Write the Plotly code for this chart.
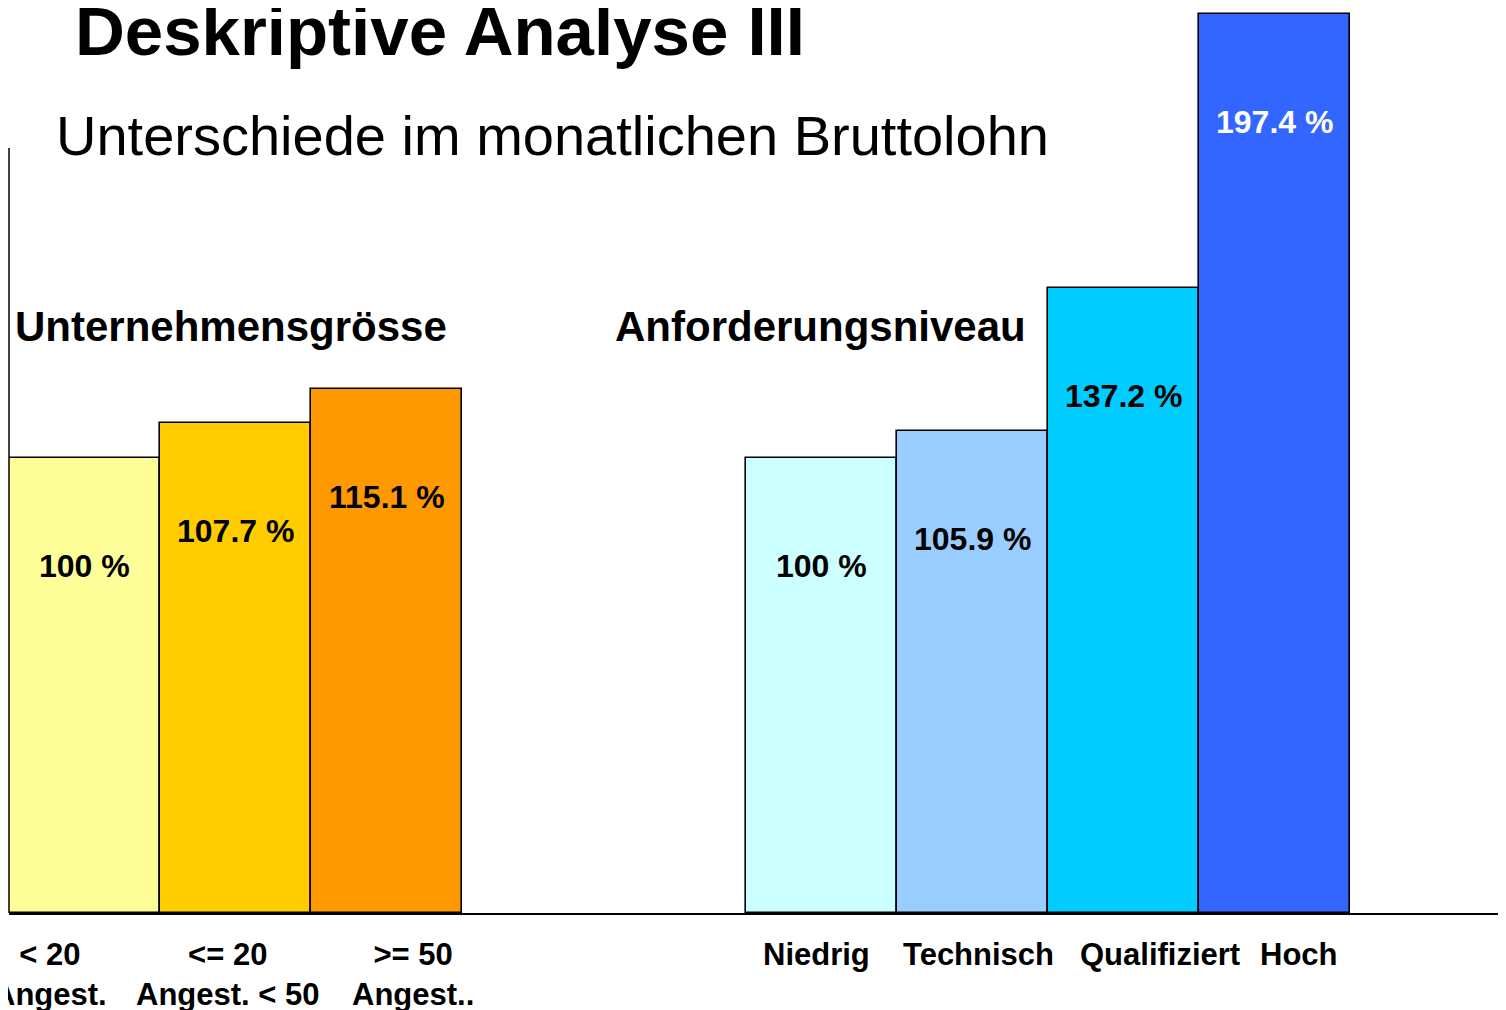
import plotly.graph_objects as go

# Data
cats_size = ["< 20<br>Angest.", "<= 20<br>Angest. < 50", ">= 50<br>Angest.."]
vals_size = [100.0, 107.7, 115.1]
colors_size = ["#FFFF99", "#FFCC00", "#FF9900"]

cats_level = ["Niedrig", "Technisch", "Qualifiziert", "Hoch"]
vals_level = [100.0, 105.9, 137.2, 197.4]
colors_level = ["#CCFFFF", "#99CCFF", "#00CCFF", "#3366FF"]

label_colors_size = ["black", "black", "black"]
label_colors_level = ["black", "black", "black", "white"]

title = "Deskriptive Analyse III"
subtitle = "Unterschiede im monatlichen Bruttolohn"
group_titles = ["Unternehmensgrösse", "Anforderungsniveau"]

# Layout positions (bar-width units)
pos_size = [0, 1, 2]
pos_level = [4.881, 5.881, 6.881, 7.881]
tick_shift_size = [-35, -8, 26]
tick_shift_level = [-5, 6, 36, 24]

W, H = 1506, 1010
OFF = 8  # page offset of the figure (body margin)
L = 9 - OFF
plot_bottom = 913 - OFF
B = H - plot_bottom
plot_w = W - L
px_per_unit = 4.554
ymax = plot_bottom / px_per_unit

FONT = "Liberation Sans, Arial, sans-serif"

fig = go.Figure()
fig.add_trace(go.Bar(x=pos_size, y=vals_size, width=1.0,
                     marker=dict(color=colors_size, line=dict(color="black", width=1.6)),
                     hoverinfo="skip", showlegend=False))
fig.add_trace(go.Bar(x=pos_level, y=vals_level, width=1.0,
                     marker=dict(color=colors_level, line=dict(color="black", width=1.6)),
                     hoverinfo="skip", showlegend=False))

annotations = []
for x, v, c in zip(pos_size + pos_level, vals_size + vals_level,
                   label_colors_size + label_colors_level):
    txt = (f"{v:.1f}".rstrip("0").rstrip(".")) + " %"
    annotations.append(dict(x=x, y=v, xref="x", yref="y", text=f"<b>{txt}</b>",
                            showarrow=False, yshift=-108, yanchor="middle",
                            font=dict(family=FONT, size=32, color=c)))

for x, t, s in zip(pos_size, cats_size, tick_shift_size):
    annotations.append(dict(x=x, y=0, xref="x", yref="y", text=f"<b>{t}</b>",
                            showarrow=False, yanchor="top", yshift=-22, xshift=s,
                            align="center",
                            font=dict(family=FONT, size=31, color="black")))
for x, t, s in zip(pos_level, cats_level, tick_shift_level):
    annotations.append(dict(x=x, y=0, xref="x", yref="y", text=f"<b>{t}</b>",
                            showarrow=False, yanchor="top", yshift=-22, xshift=s,
                            font=dict(family=FONT, size=31, color="black")))

def px(xp):
    return (xp - OFF - L) / plot_w

def py(yp):
    return (plot_bottom - (yp - OFF)) / plot_bottom

annotations.append(dict(x=px(73), y=py(31), xref="paper", yref="paper", xanchor="left",
                        yanchor="middle", text=f"<b>{title}</b>", showarrow=False,
                        font=dict(family=FONT, size=69, color="black")))
annotations.append(dict(x=px(54), y=py(135), xref="paper", yref="paper", xanchor="left",
                        yanchor="middle", text=subtitle, showarrow=False,
                        font=dict(family=FONT, size=56, color="black")))
for xp, t in zip([13, 613], group_titles):
    annotations.append(dict(x=px(xp), y=py(327), xref="paper", yref="paper", xanchor="left",
                            yanchor="middle", text=f"<b>{t}</b>", showarrow=False,
                            font=dict(family=FONT, size=42, color="black")))

fig.update_layout(
    width=W, height=H,
    margin=dict(l=L, r=0, t=0, b=B),
    paper_bgcolor="white", plot_bgcolor="white",
    bargap=0,
    xaxis=dict(range=[-0.5, plot_w / 151 - 0.5], showticklabels=False, ticks="",
               showgrid=False, zeroline=False, showline=True, linecolor="black",
               linewidth=1.5, fixedrange=True),
    yaxis=dict(range=[0, ymax], visible=False, fixedrange=True),
    annotations=annotations,
    shapes=[dict(type="line", xref="paper", yref="paper", x0=0, x1=0,
                 y0=0, y1=py(148), line=dict(color="black", width=1.5))],
)

fig.write_html("out.html")
